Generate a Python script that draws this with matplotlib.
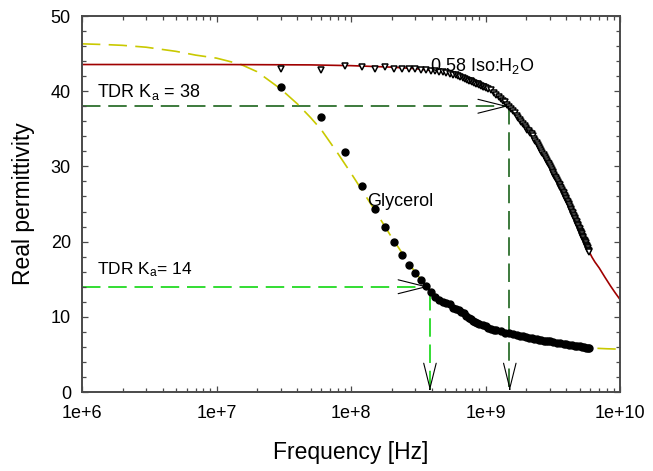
import numpy as np
import matplotlib
matplotlib.use('Agg')
import matplotlib.pyplot as plt
from matplotlib.ticker import FixedLocator, LogLocator, NullFormatter, FuncFormatter

plt.rcParams['font.family'] = ['Liberation Sans', 'DejaVu Sans']
plt.rcParams['mathtext.fontset'] = 'custom'
plt.rcParams['mathtext.rm'] = 'Liberation Sans'
plt.rcParams['mathtext.it'] = 'Liberation Sans:italic'

# 0.58 Iso:H2O measured points (MHz, real permittivity)
iso_f_mhz = [30, 60, 90, 120, 150, 180, 210, 240, 270, 300, 330, 360, 390, 420, 450, 480, 510, 540, 570, 600,
             625, 650, 675, 700, 725, 750, 775, 800, 825, 850, 875, 900, 925, 950, 975, 1000,
             1050, 1100, 1150, 1200, 1250, 1300, 1350, 1400, 1450, 1500, 1550, 1600, 1650, 1700, 1750,
             1800, 1850, 1900, 1950, 2000, 2050, 2100, 2150, 2200, 2250, 2300, 2350, 2400, 2450, 2500,
             2550, 2600, 2650, 2700, 2750, 2800, 2850, 2900, 2950, 3000, 3050, 3100, 3150, 3200, 3250,
             3300, 3350, 3400, 3450, 3500, 3550, 3600, 3650, 3700, 3750, 3800, 3850, 3900, 3950, 4000,
             4050, 4100, 4150, 4200, 4250, 4300, 4350, 4400, 4450, 4500, 4550, 4600, 4650, 4700, 4750,
             4800, 4850, 4900, 4950, 5000, 5050, 5100, 5150, 5200, 5250, 5300, 5350, 5400, 5450, 5500,
             5550, 5600, 5650, 5700, 5750, 5800, 5850, 5900]
iso_eps = [43.0, 42.8, 43.3, 43.2, 42.95, 43.2, 42.95, 42.95, 42.9, 42.9, 42.85, 42.8, 42.75, 42.65, 42.55,
           42.5, 42.4, 42.3, 42.2, 42.1,
           42.0, 41.9, 41.75, 41.6, 41.5, 41.4, 41.3, 41.2, 41.1, 41.0, 40.9, 40.8, 40.7, 40.6, 40.52, 40.45,
           40.3, 40.1, 39.8, 39.5, 39.2, 38.95, 38.7, 38.5, 38.2, 37.95, 37.65, 37.35, 37.05, 36.75, 36.5,
           36.2, 35.9, 35.65, 35.4, 35.15, 34.9, 34.7, 34.5, 34.25, 34.0, 33.7, 33.4, 33.15, 32.85, 32.55,
           32.3, 32.05, 31.75, 31.5, 31.25, 31.0, 30.75, 30.5, 30.3, 30.05, 29.8, 29.55, 29.3, 29.1, 28.85,
           28.6, 28.4, 28.15, 27.9, 27.7, 27.5, 27.3, 27.1, 26.85, 26.65, 26.45, 26.25, 26.05, 25.85, 25.65,
           25.45, 25.25, 25.05, 24.85, 24.6, 24.4, 24.2, 24.0, 23.8, 23.6, 23.4, 23.15, 23.0, 22.8, 22.6,
           22.4, 22.25, 22.05, 21.85, 21.65, 21.45, 21.25, 21.1, 20.95, 20.8, 20.6, 20.45, 20.25, 20.1, 19.9,
           19.75, 19.6, 19.45, 19.25, 19.1, 18.95, 18.8, 18.65]

# fitted curve for Iso:H2O (Hz)
iso_fit_f = [1e6, 1e7, 5e7, 1e8, 2e8, 3e8, 4e8, 5e8, 6e8, 7e8, 8e8, 9e8, 1e9, 1.2e9, 1.4e9, 1.6e9, 1.8e9,
             2e9, 2.25e9, 2.5e9, 2.75e9, 3e9, 3.25e9, 3.5e9, 3.75e9, 4e9, 4.25e9, 4.5e9, 5e9, 5.5e9, 5.9e9,
             6.2e9, 6.5e9, 7e9, 7.7e9, 8.5e9, 9.2e9, 1e10]
iso_fit_eps = [43.55, 43.55, 43.5, 43.4, 43.2, 43.0, 42.75, 42.45, 42.1, 41.7, 41.3, 40.95, 40.6, 39.6, 38.55,
               37.4, 36.3, 35.25, 34.0, 32.6, 31.3, 30.05, 28.9, 27.7, 26.6, 25.6, 24.6, 23.6, 21.7, 19.95,
               18.65, 17.9, 17.3, 16.5, 15.3, 14.1, 13.2, 12.3]

# glycerol measured points (MHz)
gly_f_mhz = [30, 60, 90, 120, 150, 180, 210, 240, 270, 300, 330, 360, 390, 420,
             450, 480, 510, 540, 570, 600, 630, 660, 690, 720, 750, 780, 810, 840, 870, 900,
             950, 1000, 1050, 1100, 1150, 1200, 1300, 1400, 1500, 1600, 1700, 1800, 1900, 2000,
             2100, 2200, 2300, 2400, 2500, 2600, 2700, 2800, 2900, 3000, 3200, 3400, 3600, 3800,
             4000, 4200, 4400, 4600, 4800, 5000, 5200, 5400, 5600, 5800, 5900]
gly_eps = [40.5, 36.6, 31.9, 27.4, 24.3, 21.9, 19.9, 18.2, 16.9, 15.8, 14.9, 14.1, 13.3, 12.6,
           12.3, 12.0, 11.85, 11.65, 11.2, 11.05, 10.9, 10.7, 10.45, 10.15, 9.9, 9.7, 9.5, 9.35, 9.2, 9.05,
           8.9, 8.75, 8.55, 8.35, 8.3, 8.2, 8.05, 7.9, 7.8, 7.7, 7.6, 7.5, 7.4, 7.3,
           7.22, 7.15, 7.08, 7.02, 6.96, 6.9, 6.85, 6.8, 6.76, 6.72, 6.64, 6.56, 6.49, 6.42,
           6.36, 6.3, 6.24, 6.18, 6.12, 6.06, 6.0, 5.95, 5.9, 5.85, 5.83]

# fitted curve for glycerol (Hz)
gly_fit_f = [1e6, 1.5e6, 2e6, 3e6, 5e6, 7e6, 1e7, 1.5e7, 2e7, 3e7, 4e7, 5e7, 6e7, 8e7, 1e8, 1.5e8, 2e8,
             2.5e8, 3e8, 3.86e8, 5e8, 6e8, 7e8, 8e8, 1e9, 1.5e9, 2e9, 3e9, 4e9, 5e9, 6e9, 8e9, 1e10]
gly_fit_eps = [46.3, 46.2, 46.1, 45.85, 45.3, 44.8, 44.4, 43.6, 42.6, 40.3, 38.3, 36.5, 34.9, 31.7, 29.1,
               24.2, 20.6, 18.0, 15.9, 13.6, 11.8, 10.9, 10.2, 9.6, 8.75, 7.8, 7.3, 6.72, 6.36, 6.06,
               5.85, 5.75, 5.7]

# TDR readings
tdr_iso = 38
tdr_iso_f = 1.5e9
tdr_gly = 14
tdr_gly_f = 3.75e8

fig = plt.figure(figsize=(6.53, 4.71), dpi=100)
ax = fig.add_axes([0.1256, 0.1677, 0.8239, 0.7983])

axis_col = '#4a4a4a'
red = '#a00000'
yellow = '#c9c900'
dkgreen = '#3c7a3c'
ltgreen = '#33dd33'

ax.plot(gly_fit_f, gly_fit_eps, color=yellow, lw=1.2, linestyle=(0, (11, 5)), zorder=2)
ax.plot(iso_fit_f, iso_fit_eps, color=red, lw=1.2, zorder=2)

# TDR guide lines
ax.plot([1e6, tdr_iso_f], [tdr_iso, tdr_iso], color=dkgreen, lw=1.4, linestyle=(0, (9.5, 4)), zorder=1)
ax.plot([tdr_iso_f, tdr_iso_f], [tdr_iso, 0], color=dkgreen, lw=1.4, linestyle=(0, (9.5, 4)), zorder=1)
ax.plot([1e6, tdr_gly_f], [tdr_gly, tdr_gly], color=ltgreen, lw=1.4, linestyle=(0, (9.5, 4)), zorder=1)
ax.plot([tdr_gly_f * 1.03, tdr_gly_f * 1.03], [13.3, 0], color=ltgreen, lw=1.4,
        linestyle=(0, (9.5, 4)), zorder=1)

ax.plot(np.array(iso_f_mhz) * 1e6, iso_eps, linestyle='none', marker='v', ms=4.3,
        mfc='white', mec='black', mew=1.1, zorder=3)
ax.plot(np.array(gly_f_mhz) * 1e6, gly_eps, linestyle='none', marker='o', ms=5,
        mfc='black', mec='black', zorder=3)

# open arrow heads
head = dict(arrowstyle='->,head_length=2.0,head_width=0.5', color='black', lw=0.8,
            mutation_scale=10, shrinkA=0, shrinkB=0)
ax.annotate('', xy=(tdr_iso_f * 0.98, tdr_iso), xytext=(-1, 0), textcoords='offset points', arrowprops=head)
ax.annotate('', xy=(tdr_gly_f, tdr_gly), xytext=(-1, 0), textcoords='offset points', arrowprops=head)
head2 = dict(arrowstyle='->,head_length=1.8,head_width=0.45', color='black', lw=0.8,
             mutation_scale=10, shrinkA=0, shrinkB=0)
ax.annotate('', xy=(tdr_iso_f * 1.01, 0.2), xytext=(0, 1), textcoords='offset points', arrowprops=head2)
ax.annotate('', xy=(tdr_gly_f * 1.03, 0.2), xytext=(0, 1), textcoords='offset points', arrowprops=head2)

ax.text(1.29e6, 39.27, 'TDR K$_{\\mathrm{a}}$ = 38', fontsize=13, va='baseline', zorder=5)
ax.text(1.29e6, 15.65, 'TDR K$_{\\mathrm{a}}$= 14', fontsize=12.5, va='baseline', zorder=5)
ax.text(1.31e8, 24.73, 'Glycerol', fontsize=13, va='baseline', zorder=5)
ax.text(3.86e8, 42.73, '0.58 Iso:H$_{\\mathrm{2}}$O', fontsize=13, va='baseline', zorder=5)

ax.set_xscale('log')
ax.set_xlim(1e6, 1e10)
ax.set_ylim(0, 50)
ax.xaxis.set_major_locator(FixedLocator([1e6, 1e7, 1e8, 1e9, 1e10]))
ax.xaxis.set_major_formatter(FuncFormatter(lambda v, p: '1e+%d' % round(np.log10(v))))
ax.xaxis.set_minor_locator(LogLocator(base=10, subs=np.arange(2, 10)))
ax.xaxis.set_minor_formatter(NullFormatter())
ax.set_yticks([0, 10, 20, 30, 40, 50])
ax.set_yticks(np.arange(0, 51, 2), minor=True)

for s in ax.spines.values():
    s.set_color(axis_col)
    s.set_linewidth(1.4)
ax.tick_params(which='both', direction='in', top=True, right=True, color=axis_col, width=0.9,
               labelsize=13)
ax.tick_params(which='major', length=4.2)
ax.tick_params(which='minor', length=2.6)
ax.tick_params(axis='x', pad=9)
ax.tick_params(axis='y', pad=8)

ax.set_xlabel('Frequency [Hz]', fontsize=16.5, va='center')
ax.xaxis.set_label_coords(0.5, -0.162)
ax.set_ylabel('Real permittivity', fontsize=16.5, va='center')
ax.yaxis.set_label_coords(-0.108, 0.5)

fig.savefig('out.png', dpi=100)
